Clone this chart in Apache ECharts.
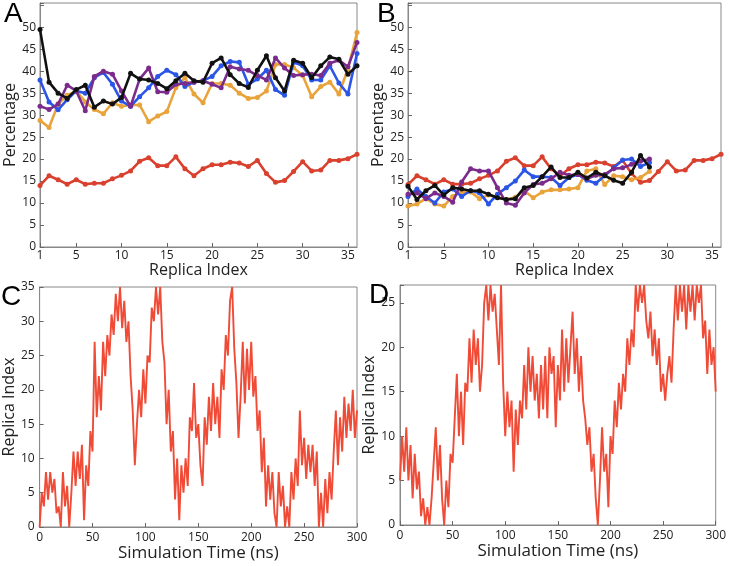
<!DOCTYPE html>
<html><head><meta charset="utf-8">
<script src="https://cdn.jsdelivr.net/npm/echarts@6/dist/echarts.min.js"></script>
<style>html,body{margin:0;padding:0;background:#fff}#c{width:729px;height:566px}</style>
</head><body><div id="c"></div>
<script>
// ---- Panel A / B data (Percentage vs Replica Index) ----
const replicaA = [1,2,3,4,5,6,7,8,9,10,11,12,13,14,15,16,17,18,19,20,21,22,23,24,25,26,27,28,29,30,31,32,33,34,35,36];
const replicaB = [1,2,3,4,5,6,7,8,9,10,11,12,13,14,15,16,17,18,19,20,21,22,23,24,25,26,27,28];
const replicaTicks = [1,5,10,15,20,25,30,35];

const aOrange = [28.8,27.2,32.5,34.5,35.5,33,31.3,30.3,32.8,32,32.3,32.3,28.5,29.8,30.8,36.2,38.5,34.8,32.8,37.2,37.2,36.8,35,33.8,34,35.5,41.5,41.5,40.8,39,34.2,36.5,37.5,34.8,40.5,48.8];
const aBlue   = [38,33,31.2,33.5,35.5,35,38.5,39.7,37,33.2,32,34.2,36.2,38.8,40.2,39.2,36.5,37.5,37.8,38.8,41.2,42.2,42,37,38.2,40.2,35.8,34.5,42,41.2,38,38,41.2,37.3,34.8,44];
const aPurple = [32,31.3,32.5,36.8,35.5,31,38.8,40,39.3,35.5,32,38.2,40.7,35.3,35.2,37,37.2,37.5,37.8,37,36.2,41,40.5,40.2,39,38,43,40.7,39,39.2,39.3,39,41.8,42.5,41,46.5];
const aBlack  = [49.5,37.5,35,33.8,35.8,36.8,31.8,33.2,32.5,34,39.5,38.2,38,37.2,36,37.8,39.5,37.8,37.5,41.8,43,39.2,37.2,36.3,40.2,43.5,38.5,35.5,42.5,41.8,38.5,41.2,43.2,42.7,39.3,41.2];
const aRed    = [14,16.2,15.3,14.3,15.3,14.3,14.5,14.5,15.5,16.3,17.3,19.5,20.3,18.5,18.5,20.5,17.8,16.2,17.8,18.7,18.7,19.3,19.1,18.3,19.7,16.7,14.7,15.1,17.2,19.4,17.3,17.5,19.7,19.7,20.1,21.1];

const bOrange = [9.3,9.8,11,9.8,9.3,11.5,12.5,12.5,11,11.8,11.3,10.8,11.3,12.8,11.2,12.5,13,13,13.2,13.5,17.3,17.8,14.2,16.2,16,15.3,15.8,17.2];
const bBlue   = [11.5,13.2,11.5,10,12.5,13.2,11.5,12.8,12.3,9.8,12,13.5,15,17.5,16,16,15.8,14,15.8,16.5,15.2,14.5,16.2,18,19.8,20,18.3,19.2];
const bPurple = [12,12.3,11,12.3,11.5,10.2,14.8,17.8,17.3,17.3,13.5,10,9.5,12.3,14.2,14.5,15.5,17,16.3,16.5,15.5,16.3,16.5,17.8,18,18.8,19.5,20];
const bBlack  = [13.8,10.8,12.8,14,11.8,13.5,13.2,12.8,12.8,12,11.2,10.8,11,13.5,14,16,18.2,15.8,15.8,17,15.7,17,16.2,15.2,14.5,17,20.8,18.2];
const bRed    = [14.2,16.2,15.3,14.3,15.3,14.3,14.3,14.5,15.5,16.3,17.3,19.5,20.3,18.5,18.5,20.5,17.8,16.2,17.8,18.7,18.7,19.3,19.1,18.3,19.7,16.7,14.7,15.1,17.2,19.4,17.3,17.5,19.7,19.7,20.1,21.1];

// ---- Panel C / D data (Replica Index vs Simulation Time, sampled every 2 ns from 0 to 300) ----
const timeStepNs = 2;
const cReplica = [
 0,5,3,8,4,8,5,7,2,3,
 0,8,3,6,0,5,11,6,11,7,
 12,1,9,6,14,11,27,16,22,17,
 27,22,28,25,31,28,34,30,35,29,
 33,27,30,22,17,9,15,20,16,23,
 18,25,24,32,30,35,31,35,27,24,
 15,20,11,14,4,10,1,9,5,10,
 6,16,14,21,13,15,9,6,16,12,
 19,14,21,15,19,13,23,20,28,25,
 33,35,26,21,13,19,27,18,26,20,
 27,19,22,14,17,8,13,3,9,4,
 8,2,0,8,3,6,0,3,0,8,
 4,10,6,17,9,13,7,12,8,12,
 6,11,0,5,0,7,2,8,4,11,
 17,9,16,11,19,13,18,14,20,13,
 17];
const dReplica = [
 5,10,6,11,5,9,3,8,4,6,
 1,3,0,2,0,3,7,11,5,9,
 3,0,5,2,8,7,12,17,10,15,
 9,16,15,21,16,22,18,21,15,18,
 25,27,23,27,24,26,22,18,27,16,
 10,15,11,14,6,13,9,14,12,18,
 13,20,15,19,14,17,12,18,13,19,
 12,20,17,19,11,18,14,22,15,21,
 16,20,24,17,21,15,19,14,12,9,
 11,6,8,3,0,5,11,6,8,2,
 10,8,14,11,16,13,17,15,21,18,
 22,20,27,24,27,25,27,23,21,24,
 19,22,18,21,15,17,14,17,19,16,
 22,27,23,27,24,27,22,27,24,27,
 23,27,25,27,21,23,17,22,18,20,
 15];

const cTimes = cReplica.map((_, i) => i * timeStepNs);
const dTimes = dReplica.map((_, i) => i * timeStepNs);

const COL = {orange:'#e9a33b', blue:'#2a55e6', purple:'#7b2b8c', black:'#111111', red:'#d9402e'};
const FONT = 'Open Sans';
const TXT = '#222';

const pairs = (xs, ys) => ys.map((v, i) => [xs[i], v]);

function pctSeries(idx, xs, ys, color, z) {
  return {
    type: 'line', xAxisIndex: idx, yAxisIndex: idx, data: pairs(xs, ys),
    symbol: 'circle', symbolSize: 5, showSymbol: true,
    itemStyle: {color: color}, lineStyle: {color: color, width: 2.6},
    z: z, animation: false
  };
}
function traceSeries(idx, xs, ys) {
  return {
    type: 'line', xAxisIndex: idx, yAxisIndex: idx, data: pairs(xs, ys),
    symbol: 'none', itemStyle: {color: '#ef4a36'},
    lineStyle: {color: '#f04b37', width: 1.9}, animation: false
  };
}

const axisLineStyle = {show: true, lineStyle: {color: '#888', width: 1}};
const tickInside = {show: true, inside: true, length: 4, lineStyle: {color: '#666'}};

function replicaXAxis(gi) {
  return {
    type: 'value', gridIndex: gi, min: 1, max: 36,
    name: 'Replica Index', nameLocation: 'middle', nameGap: 12,
    nameTextStyle: {fontFamily: FONT, fontSize: 16, color: TXT},
    axisLine: axisLineStyle, splitLine: {show: false},
    axisTick: Object.assign({customValues: replicaTicks}, tickInside),
    axisLabel: {customValues: replicaTicks, fontFamily: FONT, fontSize: 12, color: TXT, margin: 3}
  };
}
function pctYAxis(gi) {
  return {
    type: 'value', gridIndex: gi, min: 0, max: 55.5, interval: 5,
    name: 'Percentage', nameLocation: 'middle', nameGap: 21,
    nameTextStyle: {fontFamily: FONT, fontSize: 16, color: TXT},
    axisLine: axisLineStyle, splitLine: {show: false}, axisTick: tickInside,
    axisLabel: {fontFamily: FONT, fontSize: 12, color: TXT, margin: 4,
      formatter: v => (v <= 50 && v % 5 === 0) ? String(v) : ''}
  };
}
function timeXAxis(gi) {
  return {
    type: 'value', gridIndex: gi, min: 0, max: 300, interval: 50,
    name: 'Simulation Time (ns)', nameLocation: 'middle', nameGap: 17,
    nameTextStyle: {fontFamily: FONT, fontSize: 17, color: TXT},
    axisLine: axisLineStyle, splitLine: {show: false}, axisTick: tickInside,
    axisLabel: {fontFamily: FONT, fontSize: 12, color: TXT, margin: 5}
  };
}
function replicaYAxis(gi, max) {
  return {
    type: 'value', gridIndex: gi, min: 0, max: max, interval: 5,
    name: 'Replica Index', nameLocation: 'middle', nameGap: 20,
    nameTextStyle: {fontFamily: FONT, fontSize: 16, color: TXT},
    axisLine: axisLineStyle, splitLine: {show: false}, axisTick: tickInside,
    axisLabel: {fontFamily: FONT, fontSize: 12, color: TXT, margin: 5,
      formatter: v => (v % 5 === 0) ? String(v) : ''}
  };
}

const gridStyle = {show: true, borderColor: '#888', borderWidth: 1, backgroundColor: 'transparent', containLabel: false};

const option = {
  backgroundColor: '#fff',
  animation: false,
  grid: [
    Object.assign({left: 40, right: 372, top: 3, bottom: 319}, gridStyle),
    Object.assign({left: 408, right: 8, top: 3, bottom: 319}, gridStyle),
    Object.assign({left: 36, right: 372, top: 287, bottom: 39}, gridStyle),
    Object.assign({left: 400, right: 9, top: 285, bottom: 41}, gridStyle)
  ],
  xAxis: [replicaXAxis(0), replicaXAxis(1), timeXAxis(2), timeXAxis(3)],
  yAxis: [pctYAxis(0), pctYAxis(1), replicaYAxis(2, 35), replicaYAxis(3, 27)],
  series: [
    pctSeries(0, replicaA, aRed, COL.red, 2),
    pctSeries(0, replicaA, aOrange, COL.orange, 3),
    pctSeries(0, replicaA, aBlue, COL.blue, 4),
    pctSeries(0, replicaA, aPurple, COL.purple, 5),
    pctSeries(0, replicaA, aBlack, COL.black, 6),
    pctSeries(1, replicaA, bRed, COL.red, 2),
    pctSeries(1, replicaB, bOrange, COL.orange, 3),
    pctSeries(1, replicaB, bBlue, COL.blue, 4),
    pctSeries(1, replicaB, bPurple, COL.purple, 5),
    pctSeries(1, replicaB, bBlack, COL.black, 6),
    traceSeries(2, cTimes, cReplica),
    traceSeries(3, dTimes, dReplica)
  ],
  graphic: [
    {type: 'text', left: 4, top: 0, z: 100, style: {text: 'A', font: '500 28px "Liberation Sans", Arial, sans-serif', fill: '#000'}},
    {type: 'text', left: 377, top: 0, z: 100, style: {text: 'B', font: '500 28px "Liberation Sans", Arial, sans-serif', fill: '#000'}},
    {type: 'text', left: 1, top: 283, z: 100, style: {text: 'C', font: '500 28px "Liberation Sans", Arial, sans-serif', fill: '#000'}},
    {type: 'text', left: 369, top: 281, z: 100, style: {text: 'D', font: '500 28px "Liberation Sans", Arial, sans-serif', fill: '#000'}}
  ]
};

const chart = echarts.init(document.getElementById('c'), null, {renderer: 'canvas'});
chart.setOption(option);
</script>
</body></html>
